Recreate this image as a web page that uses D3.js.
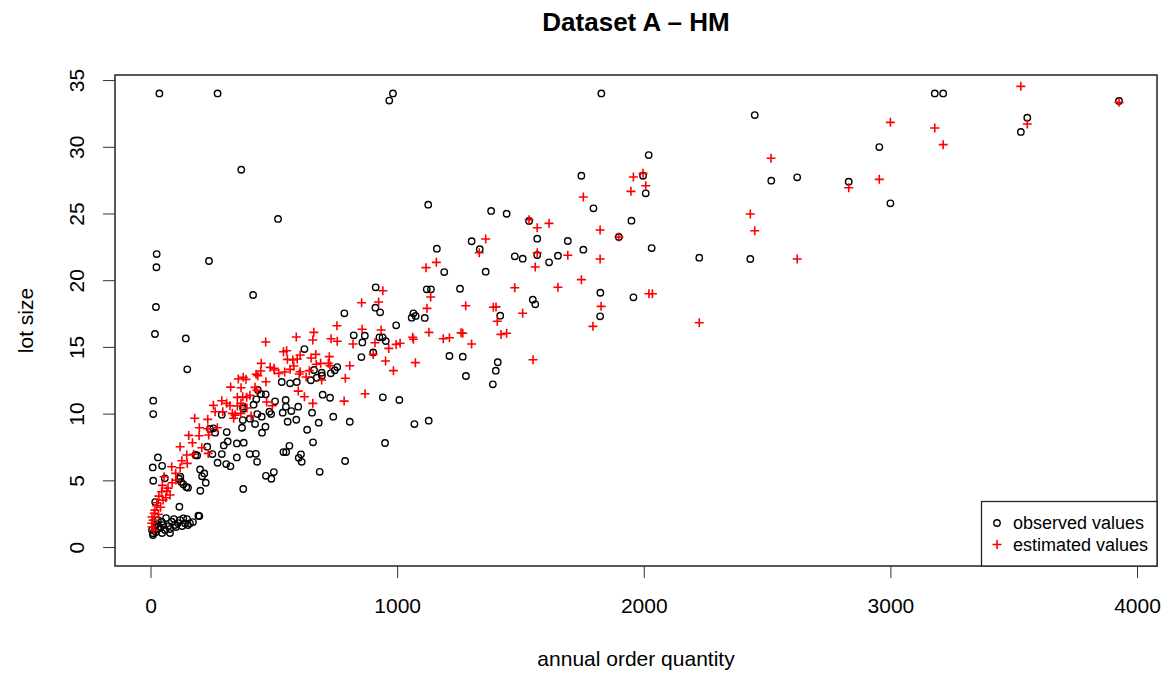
<!DOCTYPE html>
<html>
<head>
<meta charset="utf-8">
<script src="https://cdn.jsdelivr.net/npm/d3@7"></script>
<style>
body { margin: 0; background: #fff; }
svg text { font-family: "Liberation Sans", Arial, sans-serif; fill: #000; }
</style>
</head>
<body>
<svg id="chart" width="1163" height="677"></svg>
<script>
// [annual order quantity, lot size]
const observedPoints = [
  [36,34.0],[272,34.0],[968,33.46],[983,34.0],[368,28.28],[1126,25.66],[1381,25.19],[1444,24.98],[517,24.59],
  [25,21.96],[24,20.97],[237,21.44],[1302,22.92],[1335,22.32],[1161,22.36],[1191,20.61],[1359,20.64],[416,18.89],
  [913,19.47],[1120,19.32],[1137,19.32],[1255,19.36],[22,17.99],[912,17.94],[931,17.59],
  [1828,34.0],[2450,32.38],[2020,29.38],[1747,27.83],[1997,27.83],[2008,26.51],[2517,27.46],[2622,27.71],[2831,27.38],
  [1796,25.39],[1535,24.44],[1950,24.46],[1568,23.11],[1692,22.94],[1755,22.29],[1899,23.24],[2032,22.41],[1477,21.79],
  [1509,21.61],[1568,21.89],[1616,21.34],[1652,21.84],[2225,21.69],[2432,21.59],[1824,19.06],[1958,18.72],[1550,18.54],[1560,18.19],
  [3180,34.0],[3214,34.0],[3927,33.43],[3555,32.18],[3529,31.11],[2955,29.98],[3000,25.76],
  [1823,17.29],[1418,17.34],[1408,13.85],[1400,13.22],[1388,12.20],[1066,17.52],[1059,17.19],[1075,17.32],[1112,17.17],
  [996,16.62],[1212,14.32],[1266,14.27],[1279,12.82],[1070,9.22],[1128,9.47],[951,7.80],
  [143,15.64],[149,13.32],[786,17.52],[928,15.72],[941,15.72],[954,15.44],[824,15.87],[869,15.84],[859,15.34],[903,14.59],
  [855,14.24],[624,14.84],[663,13.27],[694,13.07],[731,13.02],[747,13.25],[757,13.49],[650,12.50],[674,12.69],[695,12.84],
  [942,11.22],[1009,11.02],[698,11.42],[728,11.19],[593,12.37],[566,12.27],[532,12.37],[505,10.92],[548,11.02],[599,10.52],
  [549,10.52],[536,10.07],[571,10.19],[655,10.07],[741,9.77],[435,11.77],[448,11.47],[467,11.45],[429,11.07],[418,10.67],
  [376,10.52],[482,10.14],[489,9.97],[433,9.97],[451,9.77],[289,9.92],
  [18,15.97],[11,10.97],[11,9.97],[9,5.97],[11,4.97],[30,6.72],[47,6.09],[58,5.15],[19,3.37],[117,3.02],[376,4.35],
  [202,4.22],[198,2.32],[808,9.39],[789,6.45],[686,5.64],[635,8.79],[659,7.85],[682,9.32],[591,9.54],[556,9.39],
  [601,6.69],[613,6.39],[610,6.95],[563,7.59],[539,7.12],[550,7.12],[500,5.62],[490,5.12],[468,5.34],[466,9.02],
  [452,8.57],[424,9.22],[403,9.62],[427,6.99],[432,6.39],[402,6.97],[376,10.37],[371,8.94],[374,9.52],[378,7.82],
  [350,7.77],[350,6.72],[297,7.62],[324,6.05],[307,6.22],[272,6.32],[262,8.57],[255,8.90],[241,8.85],[251,6.97],
  [289,6.97],[230,7.52],[309,8.62],[313,7.92],[182,6.90],[189,6.87],[218,5.52],[224,4.82],[201,5.82],[209,5.30],
  [145,4.50],[152,4.45],[121,5.27],[124,4.89],[133,4.70],[116,5.12],
  [11,1.03],[18,1.27],[32,1.52],[52,1.65],[72,1.57],[99,1.65],[120,2.02],[140,1.78],[160,1.78],[194,2.35],[133,2.15],
  [86,1.90],[45,1.90],[22,1.12],[39,1.42],[59,1.27],[79,1.35],[103,1.50],[128,1.57],[152,1.65],[172,1.87],[10,0.9],
  [18,1.5],[30,2.02],[63,2.17],[95,2.10],[111,1.80],[6,1.27],[26,1.72],[47,1.05],[79,1.05],[148,2.10]
];

const estimatedPoints = [
  [1359,23.09],[1333,22.06],[1117,20.94],[1159,21.34],[942,19.21],[856,18.31],[925,18.37],[1136,18.74],[1121,17.89],
  [1278,18.09],[1390,17.97],[1401,18.0],
  [2516,29.14],[1958,27.74],[1997,28.01],[2008,27.08],[1948,26.66],[1755,26.24],[2432,24.96],[2450,23.71],[1535,24.53],
  [1568,23.93],[1616,24.26],[1823,23.76],[1899,23.24],[2831,26.93],[1568,22.06],[1692,21.87],[1560,20.99],[1823,21.59],
  [2622,21.59],[1477,19.44],[1652,19.47],[1747,20.04],[2021,18.99],[2035,18.99],[1827,18.04],[1509,17.52],
  [3529,34.53],[3927,33.33],[3555,31.71],[3000,31.83],[3180,31.41],[3214,30.16],[2955,27.56],
  [1794,16.54],[2225,16.81],[1444,16.02],[1421,15.94],[1551,14.04],[1406,16.92],[1302,15.22],[1259,16.06],[1266,16.02],
  [1187,15.61],[1212,15.69],[1129,16.09],[1063,15.72],[1066,15.57],[996,15.19],[1012,15.27],[1074,13.82],
  [756,16.59],[858,16.32],[935,16.27],[966,14.89],[662,16.09],[658,15.52],[591,15.74],[757,15.42],[732,15.61],[467,15.37],
  [821,15.22],[910,15.31],[903,14.44],[953,13.94],[985,13.22],[808,13.59],[552,14.71],[555,14.07],[595,14.09],[581,13.57],
  [651,14.17],[670,14.44],[725,14.27],[672,13.70],[728,13.59],[694,12.52],[449,13.77],[501,13.40],[520,13.02],[544,13.12],
  [566,13.32],[603,12.97],[790,12.65],[870,11.49],[785,10.94],[658,10.77],[624,11.27],[599,11.69],[356,12.59],[376,12.72],
  [428,12.95],[435,12.84],[447,13.19],[485,13.47],[502,13.27],[325,11.99],[367,11.94],[424,11.97],[431,11.75],[352,11.22],
  [374,11.27],[403,11.37],[289,10.97],[255,10.62],[309,10.77],[322,10.59],[352,10.57],[391,10.42],[471,10.87],[494,10.59],
  [262,10.14],[332,10.02],[343,9.89],[179,9.65],[232,9.57],[408,9.82],
  [539,14.64],[577,14.02],[607,14.39],[607,13.14],[690,13.77],[721,13.77],[644,13.22],[631,12.74],[468,12.39],[387,12.57],
  [390,11.22],[367,10.77],[293,10.14],[366,10.02],[337,9.65],
  [198,8.94],[232,8.87],[271,8.94],[236,8.40],[155,8.37],[197,8.34],[170,7.82],[208,7.44],[120,7.52],[147,6.90],[175,6.95],
  [86,6.02],[120,5.94],[102,5.52],[127,6.47],[149,6.27],[234,7.02],[55,5.27],[88,4.82],[48,4.62],[66,4.20],[79,3.90],
  [45,4.15],[62,3.70],[26,3.32],[41,2.98],[15,2.53],[32,2.45],[11,2.02],[5,1.78],[25,3.10],
  [6,1.50],[18,2.77],[51,3.52],[71,4.42],[103,5.02],[34,3.82],[6,2.25],[14,1.27]
];

const xTicks = [0, 1000, 2000, 3000, 4000];
const yTicks = [0, 5, 10, 15, 20, 25, 30, 35];
const legendLabels = ['observed values', 'estimated values'];

const svg = d3.select('#chart');
const plotLeft = 115, plotRight = 1157, plotTop = 75, plotBottom = 566;

const x = d3.scaleLinear().domain([-144, 4081]).range([plotLeft, plotRight]);
const y = d3.scaleLinear().domain([-1.42, 35.38]).range([plotBottom, plotTop]);

// title
svg.append('text')
    .attr('x', (plotLeft + plotRight) / 2)
    .attr('y', 31)
    .attr('text-anchor', 'middle')
    .style('font-size', '26px')
    .style('font-weight', 'bold')
    .text('Dataset A \u2013 HM');

// x axis
const gx = svg.append('g')
    .attr('transform', `translate(0, ${plotBottom})`)
    .call(d3.axisBottom(x).tickValues(xTicks).tickFormat(d3.format('d'))
        .tickSize(12).tickSizeOuter(0).tickPadding(20));
gx.select('.domain').remove();
gx.selectAll('line').attr('stroke', '#333');
gx.attr('font-family', null);
gx.selectAll('text').style('font-size', '21px');

// y axis, labels parallel to axis like R
const gy = svg.append('g')
    .attr('transform', `translate(${plotLeft}, 0)`)
    .call(d3.axisLeft(y).tickValues(yTicks).tickFormat(d3.format('d')).tickSize(12).tickSizeOuter(0));
gy.select('.domain').remove();
gy.selectAll('line').attr('stroke', '#333');
gy.attr('font-family', null);
gy.selectAll('text')
    .style('font-size', '21px')
    .attr('text-anchor', 'middle')
    .attr('transform', 'rotate(-90)')
    .attr('x', 0)
    .attr('y', -31)
    .attr('dy', 0);

svg.append('text')
    .attr('x', (plotLeft + plotRight) / 2)
    .attr('y', 666)
    .attr('text-anchor', 'middle')
    .style('font-size', '21px')
    .text('annual order quantity');

svg.append('text')
    .attr('transform', `translate(33, ${(plotTop + plotBottom) / 2}) rotate(-90)`)
    .attr('text-anchor', 'middle')
    .style('font-size', '21px')
    .text('lot size');

// points
svg.append('g')
    .selectAll('circle')
    .data(observedPoints)
    .enter()
    .append('circle')
    .attr('cx', d => x(d[0]))
    .attr('cy', d => y(d[1]))
    .attr('r', 3.2)
    .attr('fill', 'none')
    .attr('stroke', '#000')
    .attr('stroke-width', 1.4);

const cross = 'M-4.5,0H4.5M0,-4.5V4.5';
svg.append('g')
    .selectAll('path')
    .data(estimatedPoints)
    .enter()
    .append('path')
    .attr('d', cross)
    .attr('transform', d => `translate(${x(d[0])}, ${y(d[1])})`)
    .attr('fill', 'none')
    .attr('stroke', '#ff0000')
    .attr('stroke-width', 1.6);

// plot box
svg.append('rect')
    .attr('x', plotLeft)
    .attr('y', plotTop)
    .attr('width', plotRight - plotLeft)
    .attr('height', plotBottom - plotTop)
    .attr('fill', 'none')
    .attr('stroke', '#222')
    .attr('stroke-width', 1.5);

// legend
const legend = svg.append('g');
legend.append('rect')
    .attr('x', 981.5)
    .attr('y', 501.5)
    .attr('width', plotRight - 981.5)
    .attr('height', plotBottom - 501.5)
    .attr('fill', '#fff')
    .attr('stroke', '#222')
    .attr('stroke-width', 1.3);
legend.append('circle')
    .attr('cx', 997).attr('cy', 523)
    .attr('r', 3.2)
    .attr('fill', 'none')
    .attr('stroke', '#000')
    .attr('stroke-width', 1.4);
legend.append('path')
    .attr('d', cross)
    .attr('transform', 'translate(997, 544.5)')
    .attr('stroke', '#ff0000')
    .attr('stroke-width', 1.6);
legend.selectAll('text.lab')
    .data(legendLabels)
    .enter()
    .append('text')
    .attr('class', 'lab')
    .attr('x', 1013)
    .attr('y', (d, i) => 523 + i * 21.5)
    .attr('dy', '0.35em')
    .style('font-size', '18px')
    .text(d => d);
</script>
</body>
</html>
